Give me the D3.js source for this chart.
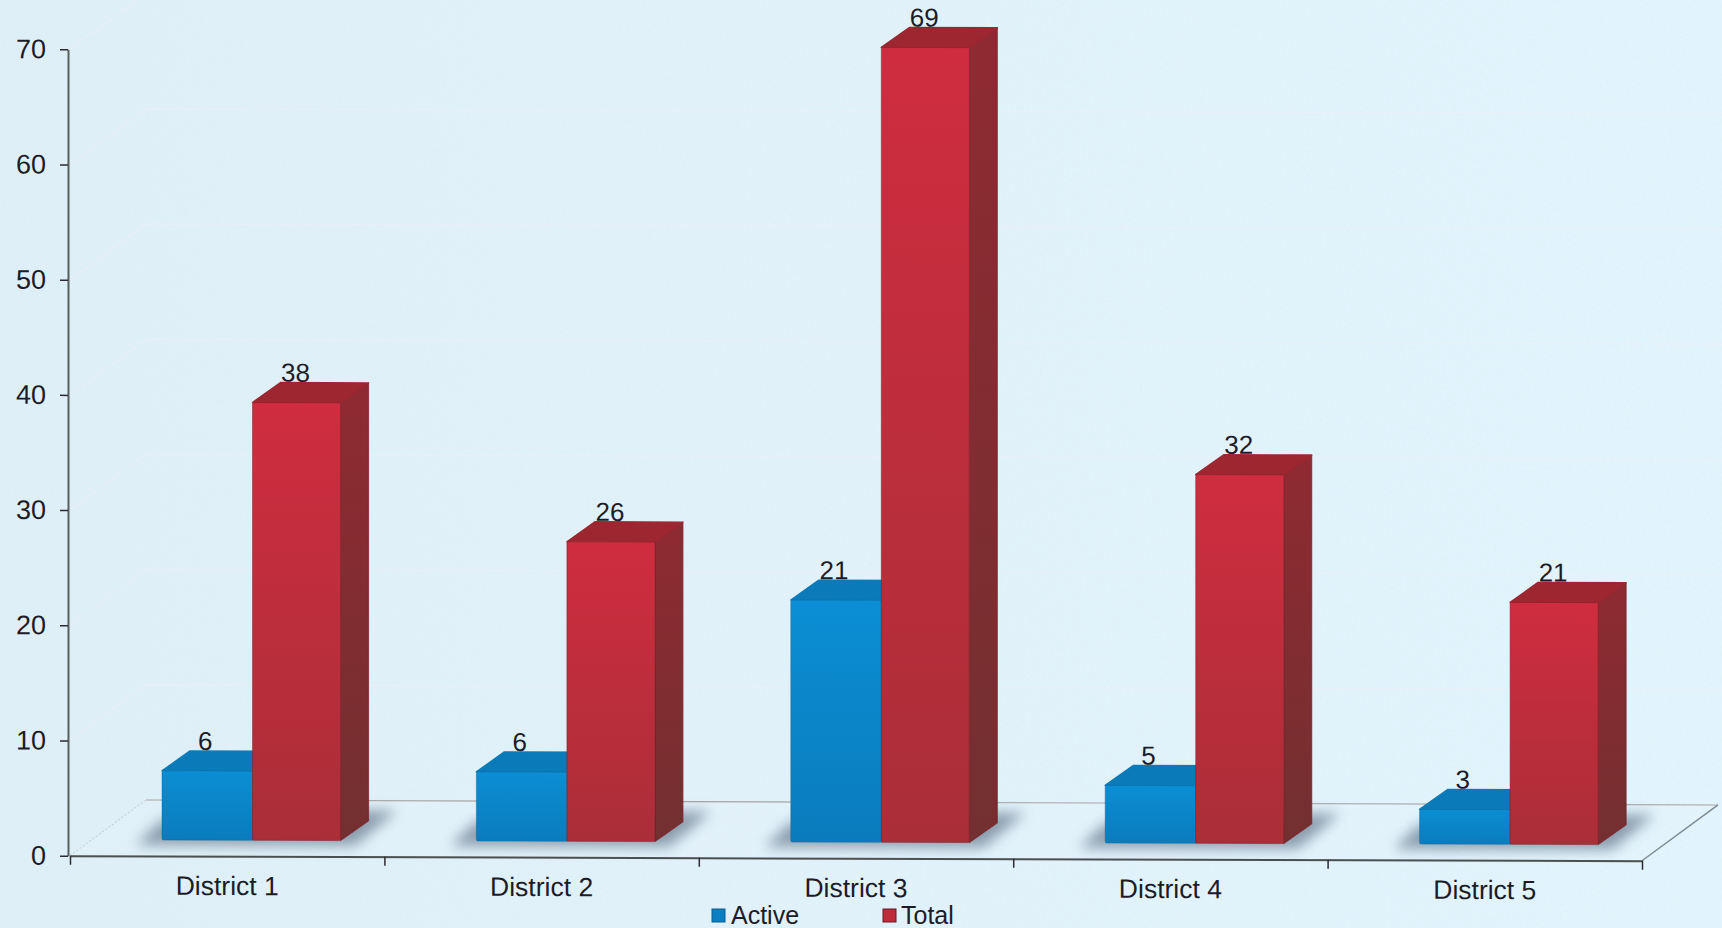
<!DOCTYPE html>
<html><head><meta charset="utf-8">
<script src="https://cdnjs.cloudflare.com/ajax/libs/d3/7.8.5/d3.min.js"></script>
<style>
html,body{margin:0;padding:0;background:#e0f0f9;overflow:hidden}
svg{display:block}
text{font-family:"Liberation Sans",Arial,sans-serif;fill:#1c1c28}
</style></head><body>
<svg id="c" width="1722" height="928"></svg>
<script>
const categories=["District 1","District 2","District 3","District 4","District 5"];
const activeValues=[6,6,21,5,3];
const totalValues=[38,26,69,32,21];
const seriesNames=["Active","Total"];
const yTickValues=[0,10,20,30,40,50,60,70];
const gridValues=[10,20,30,40,50,60,70];

const W=1722,H=928,x0=70,x1=1642,yBottom=855.7,yTop=49.3;
const tilt=0.0032, baseLift=16, depthX=28, depthY=20, wallX=76, wallY=56;
const blueOffset=92, blueWidth=90.5, redWidth=88;
const svg=d3.select("#c");
const defs=svg.append("defs");
function grad(id,stops,horizontal){
  const g=defs.append("linearGradient").attr("id",id).attr("x1",0).attr("y1",0).attr("x2",horizontal?1:0).attr("y2",horizontal?0:1);
  stops.forEach((c,i)=>g.append("stop").attr("offset",i/(stops.length-1)).attr("stop-color",c));
}
grad("bg",["#deeff8","#e1f2fb","#e2f4fd"],true);
grad("blueFront",["#0b8ed4","#0a7cbd"]);
grad("redFront",["#cf2d3f","#aa2e38"]);
grad("redSide",["#8f2a32","#733030"]);
const noiseF=defs.append("filter").attr("id","noise").attr("x",0).attr("y",0).attr("width",1).attr("height",1);
noiseF.append("feTurbulence").attr("type","fractalNoise").attr("baseFrequency",0.3).attr("numOctaves",3).attr("seed",4);
noiseF.append("feColorMatrix").attr("type","matrix").attr("values","0 0 0 0 0.72  0 0 0 0 0.82  0 0 0 0 0.88  0 0 0 0.9 -0.33");
const blurF=defs.append("filter").attr("id","blur").attr("x","-30%").attr("y","-100%").attr("width","160%").attr("height","300%");
blurF.append("feGaussianBlur").attr("stdDeviation",6.5);

svg.append("rect").attr("width",W).attr("height",H).attr("fill","url(#bg)");
svg.append("rect").attr("width",W).attr("height",H).attr("filter","url(#noise)").attr("opacity",0.5);

const g=svg.append("g").attr("transform",`matrix(1,${tilt},0,1,0,${-tilt*x0})`);
const y=d3.scaleLinear().domain([0,70]).range([yBottom,yTop]);
const xBand=d3.scaleBand().domain(categories).range([x0,x1]);
const xEdge=d3.scaleLinear().domain([0,categories.length]).range([x0,x1]);
const pathLine=d3.line();

// wall gridlines
gridValues.forEach(v=>{
  g.append("path").attr("d",pathLine([[x0,y(v)],[x0+wallX,y(v)-wallY],[W+6,y(v)-wallY]]))
   .attr("fill","none").attr("stroke","#f6eef4").attr("stroke-width",1.3).attr("opacity",0.4);
});
// floor
g.append("path").attr("d",pathLine([[x0,yBottom],[x0+wallX,yBottom-wallY],[x1+wallX,yBottom-wallY],[x1,yBottom]])+"Z")
 .attr("fill","#e9f4fb").attr("opacity",0.25);
g.append("path").attr("d",pathLine([[x0,yBottom],[x0+wallX,yBottom-wallY]]))
 .attr("fill","none").attr("stroke","#b5c2ca").attr("stroke-width",1).attr("stroke-dasharray","2 2").attr("opacity",0.7);
g.append("path").attr("d",pathLine([[x0+wallX,yBottom-wallY],[x1+wallX,yBottom-wallY]]))
 .attr("fill","none").attr("stroke","#a8a4a4").attr("stroke-width",1.1);
g.append("path").attr("d",pathLine([[x1,yBottom],[x1+wallX,yBottom-wallY]]))
 .attr("fill","none").attr("stroke","#7f8b90").attr("stroke-width",1.5);

const baseY=yBottom-baseLift;
const barTop=v=>y(v)-baseLift;
const rows=categories.map((c,i)=>({c,active:activeValues[i],total:totalValues[i]}));

// shadows
g.selectAll(".shadow").data(rows).join("path").attr("class","shadow")
 .attr("d",d=>{const l=xBand(d.c)+blueOffset,r=l+blueWidth+redWidth;
   return pathLine([[l-26,baseY+5],[l,baseY-20],[l+blueWidth,baseY-20],[r+25,baseY-30],[r+56,baseY-30],[r+14,baseY+5]])+"Z";})
 .attr("fill","#56697e").attr("opacity",0.62).attr("filter","url(#blur)");

// bars
const bars=g.selectAll(".cat").data(rows).join("g").attr("class","cat");
function box(sel,value,offset,width,front,topFill,sideFill,edge){
  const geo=d=>{const l=xBand(d.c)+offset,r=l+width,t=barTop(value(d));return{l,r,t};};
  sel.append("path").attr("d",d=>{const{r,t}=geo(d);return pathLine([[r,t],[r+depthX,t-depthY],[r+depthX,baseY-depthY],[r,baseY]])+"Z";})
    .attr("fill",sideFill).attr("stroke",edge).attr("stroke-width",1.2).attr("stroke-linejoin","round").attr("stroke-opacity",0.7);
  sel.append("path").attr("d",d=>{const{l,r,t}=geo(d);return pathLine([[l,t],[l+depthX,t-depthY],[r+depthX,t-depthY],[r,t]])+"Z";})
    .attr("fill",topFill).attr("stroke",topFill).attr("stroke-width",1.5).attr("stroke-linejoin","round");
  sel.append("rect").attr("x",d=>geo(d).l).attr("y",d=>geo(d).t).attr("width",width).attr("height",d=>baseY-geo(d).t)
    .attr("rx",1.5).attr("fill",front).attr("stroke",edge).attr("stroke-width",0.8).attr("stroke-opacity",0.6);
}
box(bars,d=>d.active,blueOffset,blueWidth,"url(#blueFront)","#0a7ab8","#0a6ba4","#0b6aa0");
box(bars,d=>d.total,blueOffset+blueWidth,redWidth,"url(#redFront)","#9c2730","url(#redSide)","#7a1c26");

// value labels
const fs=26;
bars.append("text").attr("x",d=>xBand(d.c)+blueOffset+blueWidth/2-2).attr("y",d=>barTop(d.active)-depthY-1)
 .attr("text-anchor","middle").attr("font-size",fs).text(d=>d.active);
bars.append("text").attr("x",d=>xBand(d.c)+blueOffset+blueWidth+redWidth/2-1).attr("y",d=>barTop(d.total)-depthY-1)
 .attr("text-anchor","middle").attr("font-size",fs).text(d=>d.total);

// axes
const yAxis=g.append("g").attr("transform",`translate(${x0-2},0)`).call(d3.axisLeft(y).tickValues(yTickValues).tickSize(8).tickSizeOuter(0).tickPadding(14));
yAxis.selectAll("text").attr("font-size",27).style("font-family",'"Liberation Sans",Arial,sans-serif').attr("fill","#1c1c28");
yAxis.selectAll("line").attr("stroke","#2c2c30").attr("stroke-width",1.5);
yAxis.select(".domain").attr("stroke","#56605c").attr("stroke-width",2);

const xTicks=g.append("g").attr("transform",`translate(0,${yBottom})`).call(d3.axisBottom(xEdge).ticks(categories.length).tickFormat("").tickSize(9).tickSizeOuter(0));
xTicks.selectAll("line").attr("stroke","#2c2c30").attr("stroke-width",1.5);
xTicks.select(".domain").attr("stroke","#4a4f4f").attr("stroke-width",2);
const xLabels=g.append("g").attr("transform",`translate(0,${yBottom})`).call(d3.axisBottom(xBand).tickSize(0).tickPadding(20));
xLabels.select(".domain").remove();
xLabels.selectAll("text").attr("font-size",26.5).style("font-family",'"Liberation Sans",Arial,sans-serif').attr("fill","#1c1c28");

// legend
const legend=svg.append("g");
const legendX=d3.scaleOrdinal().domain(seriesNames).range([712,883]);
const legendFill=d3.scaleOrdinal().domain(seriesNames).range(["#0c7fc0","#bd2c3a"]);
const legendEdge=d3.scaleOrdinal().domain(seriesNames).range(["#0b5f90","#6a1a22"]);
const li=legend.selectAll("g").data(seriesNames).join("g").attr("transform",d=>`translate(${legendX(d)},0)`);
li.append("rect").attr("y",909).attr("width",13).attr("height",13).attr("fill",d=>legendFill(d)).attr("stroke",d=>legendEdge(d));
li.append("text").attr("x",d=>d==="Active"?19:18).attr("y",924).attr("font-size",25).text(d=>d);
</script>
</body></html>
